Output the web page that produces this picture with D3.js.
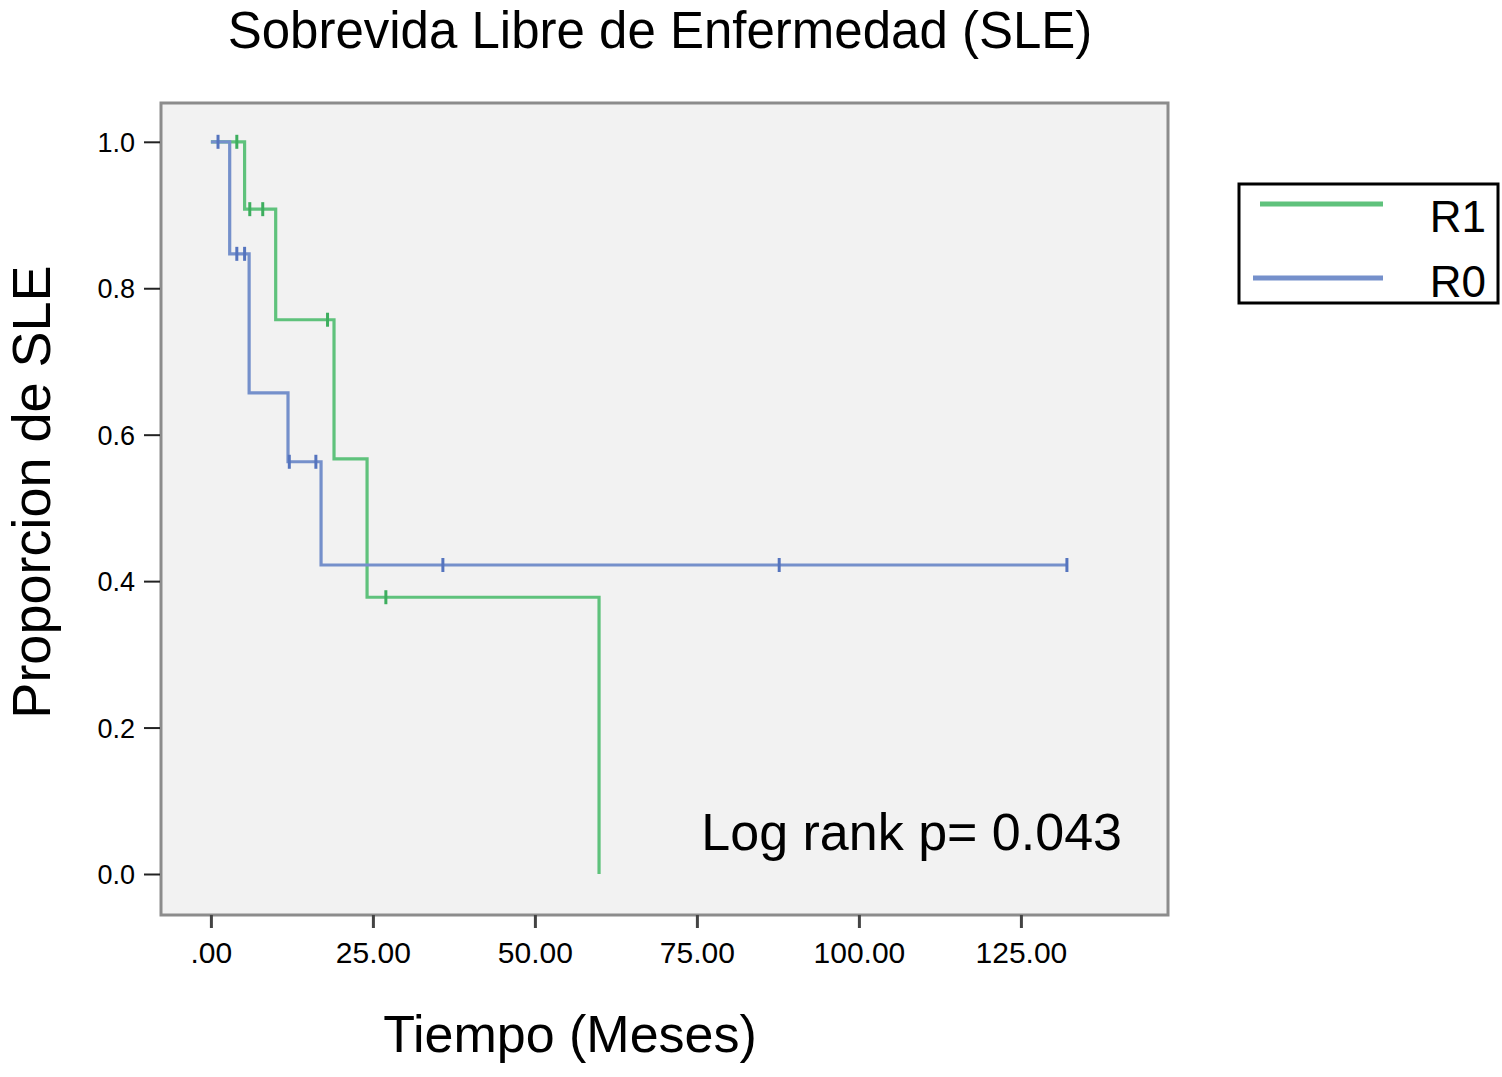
<!DOCTYPE html>
<html lang="es">
<head>
  <meta charset="UTF-8">
  <title>Sobrevida Libre de Enfermedad (SLE)</title>
  <script src="https://cdn.jsdelivr.net/npm/d3@7"></script>
  <style>
    body { margin: 0; background: #fff; }
    text { font-family: "Liberation Sans", Arial, sans-serif; fill: #000; }
  </style>
</head>
<body>
<svg width="1502" height="1077"></svg>
<script>
// Kaplan-Meier steps
var seriesNames = ["R1", "R0"];
var r1Times = [0, 5.2, 10, 19, 24.1, 59.9];
var r1Surv  = [1, 0.908, 0.757, 0.567, 0.378, 0];
var r1Censor = [4, 6, 8, 18, 27];
var r0Times = [0, 2.9, 5.9, 11.9, 17, 132.1];
var r0Surv  = [1, 0.847, 0.657, 0.563, 0.422, 0.422];
var r0Censor = [1.1, 4, 5.2, 12.1, 16.2, 35.8, 87.7, 132.1];
var xTicks = [0, 25, 50, 75, 100, 125];
var yTicks = [0, 0.2, 0.4, 0.6, 0.8, 1.0];

var colors = { R1: "#5fc27c", R0: "#7590cb" };
var censorColors = { R1: "#3dae5e", R0: "#5574be" };

var svg = d3.select("svg");

// plot frame 161..1168 x 103..915
var x = d3.scaleLinear().domain([-7.7, 147.7]).range([161, 1168]);
var y = d3.scaleLinear().domain([-0.056, 1.053]).range([915, 103]);

svg.append("rect")
  .attr("x", 161).attr("y", 103)
  .attr("width", 1168 - 161).attr("height", 915 - 103)
  .attr("fill", "#f2f2f2")
  .attr("stroke", "#8c8c8c")
  .attr("stroke-width", 3);

// y axis ticks
var yAxis = svg.append("g")
  .attr("transform", "translate(160,0)")
  .call(d3.axisLeft(y).tickValues(yTicks).tickSize(16).tickPadding(9).tickFormat(d3.format(".1f")));
yAxis.select(".domain").remove();
yAxis.selectAll("line").attr("stroke", "#222").attr("stroke-width", 2);
yAxis.selectAll("text").style("font-size", "27px").attr("dy", "0.35em");

// x axis ticks
var xAxis = svg.append("g")
  .attr("transform", "translate(0,915)")
  .call(d3.axisBottom(x).tickValues(xTicks).tickSize(13).tickPadding(14)
    .tickFormat(function(d) { return d === 0 ? ".00" : d3.format(".2f")(d); }));
xAxis.select(".domain").remove();
xAxis.selectAll("line").attr("stroke", "#444").attr("stroke-width", 3);
xAxis.selectAll("text").style("font-size", "30px");

function steps(times, surv) {
  return times.map(function(t, i) { return [t, surv[i]]; });
}
function survAt(times, surv, t) {
  var s = surv[0];
  for (var i = 0; i < times.length; i++) if (times[i] <= t) s = surv[i];
  return s;
}

var line = d3.line()
  .x(function(d) { return x(d[0]); })
  .y(function(d) { return y(d[1]); })
  .curve(d3.curveStepAfter);

var groups = [
  { name: "R1", times: r1Times, surv: r1Surv, censor: r1Censor },
  { name: "R0", times: r0Times, surv: r0Surv, censor: r0Censor }
];

groups.forEach(function(g) {
  svg.append("path")
    .attr("d", line(steps(g.times, g.surv)))
    .attr("fill", "none")
    .attr("stroke", colors[g.name])
    .attr("stroke-width", 3.2)
    .attr("stroke-linejoin", "miter");

  svg.selectAll(null)
    .data(g.censor)
    .enter()
    .append("line")
    .attr("x1", function(d) { return x(d); })
    .attr("x2", function(d) { return x(d); })
    .attr("y1", function(d) { return y(survAt(g.times, g.surv, d)) - 7; })
    .attr("y2", function(d) { return y(survAt(g.times, g.surv, d)) + 7; })
    .attr("stroke", censorColors[g.name])
    .attr("stroke-width", 3);
});

// titles
svg.append("text")
  .attr("x", 660).attr("y", 48)
  .attr("text-anchor", "middle")
  .style("font-size", "51px")
  .text("Sobrevida Libre de Enfermedad (SLE)");

svg.append("text")
  .attr("transform", "translate(50,492) rotate(-90)")
  .attr("text-anchor", "middle")
  .style("font-size", "54px")
  .text("Proporcion de SLE");

svg.append("text")
  .attr("x", 570).attr("y", 1052)
  .attr("text-anchor", "middle")
  .style("font-size", "52px")
  .text("Tiempo (Meses)");

svg.append("text")
  .attr("x", 1122).attr("y", 850)
  .attr("text-anchor", "end")
  .style("font-size", "52px")
  .text("Log rank p= 0.043");

// legend
var legend = svg.append("g");
legend.append("rect")
  .attr("x", 1239).attr("y", 184)
  .attr("width", 259).attr("height", 119)
  .attr("fill", "#fff")
  .attr("stroke", "#000")
  .attr("stroke-width", 3);

legend.selectAll("g")
  .data(seriesNames)
  .enter()
  .append("g")
  .each(function(d, i) {
    var g = d3.select(this);
    g.append("line")
      .attr("x1", d === "R1" ? 1260 : 1253).attr("x2", 1383)
      .attr("y1", 204 + i * 74).attr("y2", 204 + i * 74)
      .attr("stroke", colors[d])
      .attr("stroke-width", 5);
    g.append("text")
      .attr("x", 1486).attr("y", 232 + i * 65)
      .attr("text-anchor", "end")
      .style("font-size", "44px")
      .text(d);
  });
</script>
</body>
</html>
